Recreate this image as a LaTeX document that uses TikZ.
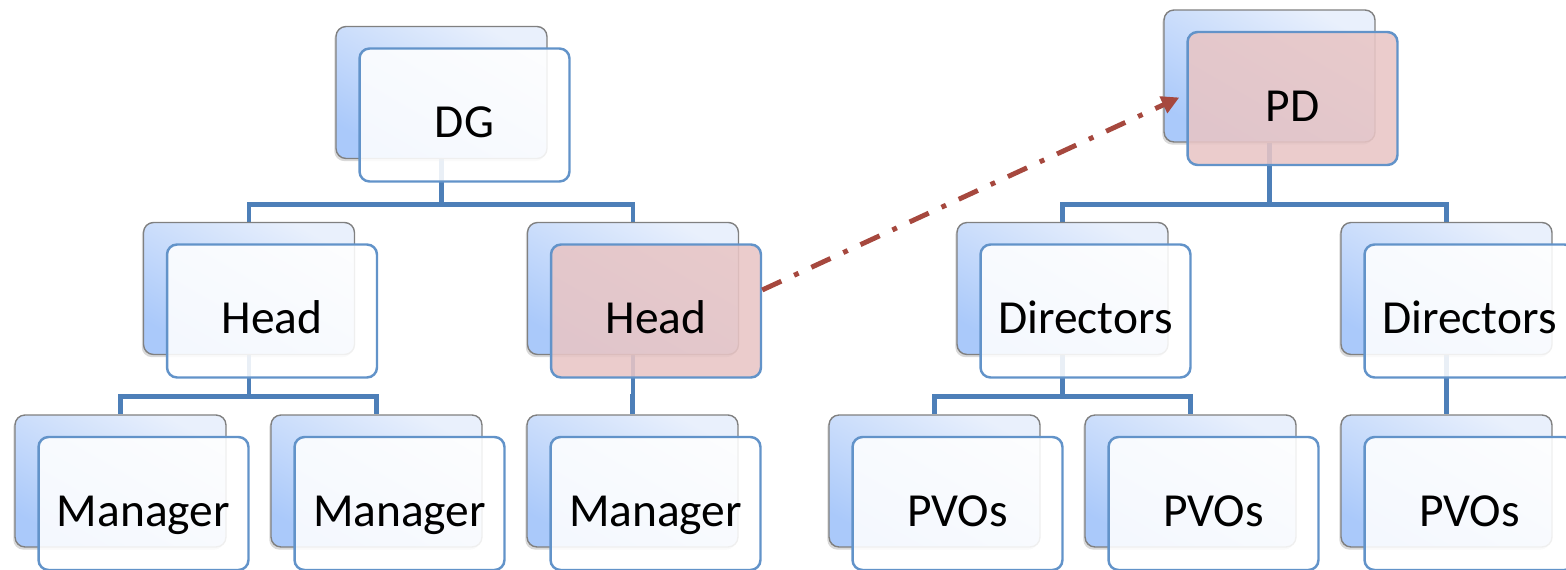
\documentclass[tikz,border=0pt]{standalone}
\usepackage{fontspec}
\setmainfont{Carlito}
\usetikzlibrary{arrows.meta,shadows,calc,backgrounds}
\definecolor{backline}{RGB}{128,128,128}
\definecolor{backtop}{RGB}{233,240,252}
\definecolor{backbot}{RGB}{170,201,250}
\definecolor{frontline}{RGB}{98,147,201}
\definecolor{frontpink}{RGB}{232,197,197}
\definecolor{orgblue}{RGB}{77,127,184}
\definecolor{linkred}{RGB}{166,72,62}
\tikzset{
	backbox/.style={draw=backline,line width=0.8pt,rounded corners=0.2cm,minimum width=4.22cm,minimum height=2.64cm,top color=backtop,bottom color=backbot,shading angle=-30,drop shadow={shadow xshift=-1pt,shadow yshift=-1.5pt,opacity=0.3}},
	frontbox/.style={draw=frontline,line width=1.4pt,rounded corners=0.2cm,minimum width=4.2cm,minimum height=2.66cm,fill opacity=0.88,text opacity=1,font=\fontsize{27}{32}\selectfont,text height=0.92cm,text depth=0pt},
	orgline/.style={draw=orgblue,line width=2.8pt},
	linkarrow/.style={draw=linkred,line width=2.8pt,dash pattern=on 12pt off 8pt on 2.8pt off 8pt,-{Triangle[length=10pt,width=10pt]}}
}
\begin{document}
\begin{tikzpicture}[x=0.02cm,y=-0.02cm]
	\useasboundingbox (0,0) rectangle (1566,570);
	\foreach \nm/\x/\y/\txt/\tone in {dg/441.5/92.5/DG/white,hl/249/288.5/Head/white,hr/633/288.5/Head/frontpink,ma/120.5/481/Manager/white,mb/376.5/481/Manager/white,mc/632.5/481/Manager/white,pd/1269.5/76/PD/frontpink,dl/1062.5/288.5/Directors/white,dr/1446.5/288.5/Directors/white,pa/934.5/481/PVOs/white,pb/1190.5/481/PVOs/white,pc/1446.5/481/PVOs/white}{
		\node[backbox] (b\nm) at (\x,\y) {};
		\node[frontbox,fill=\tone] (f\nm) at ($(b\nm)+(23,22.5)$) {\txt};
	}
	\begin{scope}[on background layer]
		\foreach \p/\c in {dg/hl,dg/hr,hl/ma,hl/mb,hr/mc,pd/dl,pd/dr,dl/pa,dl/pb,dr/pc}
			\draw[orgline] (b\p.south) |- ($(b\c.north)+(0,-17.5)$) -- (b\c.north);
	\end{scope}
	\draw[linkarrow] ($(fhr.east)+(0,-21)$) -- ($(fpd.west)+(-7,-1)$);
\end{tikzpicture}
\end{document}
